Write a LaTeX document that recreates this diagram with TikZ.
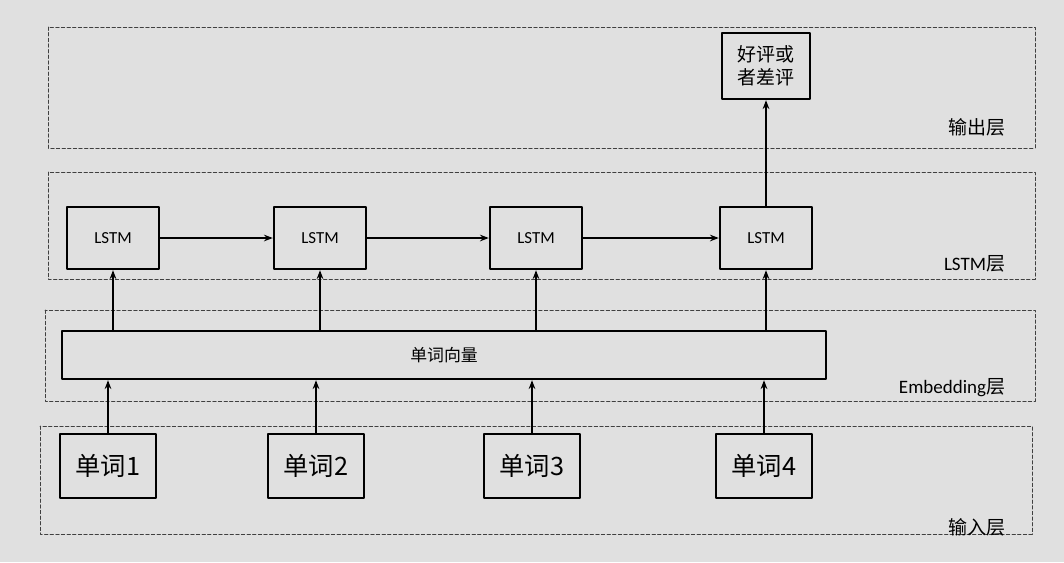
\documentclass[tikz,border=0pt]{standalone}
\usepackage{fontspec}
\setmainfont{Carlito}
\newfontfamily\cjk{Noto Sans CJK SC}
\usetikzlibrary{arrows.meta,positioning}
\tikzset{
  every picture/.append style={line cap=round,line join=round},
  nn layer/.style={draw=black!75,line width=0.6pt,dash pattern=on 2.4pt off 1.6pt},
  nn label/.style={anchor=east,font=\cjk\fontsize{13.5}{15}\selectfont},
  nn cell/.style={draw,line width=1.7pt,minimum width=2.3cm,minimum height=1.55cm,font=\fontsize{12}{14}\selectfont},
  nn word/.style={draw,line width=1.7pt,minimum width=2.4cm,minimum height=1.6cm,font=\cjk\fontsize{18}{20}\selectfont},
  nn out/.style={draw,line width=1.7pt,minimum width=2.2cm,minimum height=1.65cm,align=center,font=\cjk\fontsize{13.5}{16}\selectfont},
  nn arrow/.style={line width=1.2pt,-{Stealth[length=2.2mm]}}
}
\begin{document}
\begin{tikzpicture}[x=0.025cm,y=-0.025cm]
  \fill[black!12] (0,0) rectangle (1064,562);
  \useasboundingbox (0,0) rectangle (1064,562);
  % layer frames
  \draw[nn layer] (48,27) rectangle (1035,148);
  \draw[nn layer] (48,172) rectangle (1035,279);
  \draw[nn layer] (45,310) rectangle (1035,401);
  \draw[nn layer] (40,426) rectangle (1032,534);
  \node[nn label] at (1010,127) {输出层};
  \node[nn label] at (1010,264) {{\normalfont LSTM}层};
  \node[nn label] at (1010,388) {{\normalfont Embedding}层};
  \node[nn label] at (1010,527) {输入层};
  % nodes
  \node[nn out] (out) at (766,66) {好评或\\者差评};
  \node[nn cell] (lstm1) at (113,238) {LSTM};
  \node[nn cell] (lstm2) at (320,238) {LSTM};
  \node[nn cell] (lstm3) at (536,238) {LSTM};
  \node[nn cell] (lstm4) at (766,238) {LSTM};
  \node[draw,line width=1.7pt,minimum width=19.1cm,minimum height=1.2cm,font=\cjk\fontsize{12}{14}\selectfont] (embed) at (444,355) {单词向量};
  \node[nn word] (word1) at (108,466) {单词1};
  \node[nn word] (word2) at (316,466) {单词2};
  \node[nn word] (word3) at (532,466) {单词3};
  \node[nn word] (word4) at (764,466) {单词4};
  % connectors
  \draw[nn arrow] (lstm1) -- (lstm2);
  \draw[nn arrow] (lstm2) -- (lstm3);
  \draw[nn arrow] (lstm3) -- (lstm4);
  \draw[nn arrow] (lstm4) -- (out);
  \foreach \n in {1,2,3,4} {
    \draw[nn arrow] (lstm\n |- embed.north) -- (lstm\n.south);
    \draw[nn arrow] (word\n.north) -- (word\n |- embed.south);
  }
\end{tikzpicture}
\end{document}
